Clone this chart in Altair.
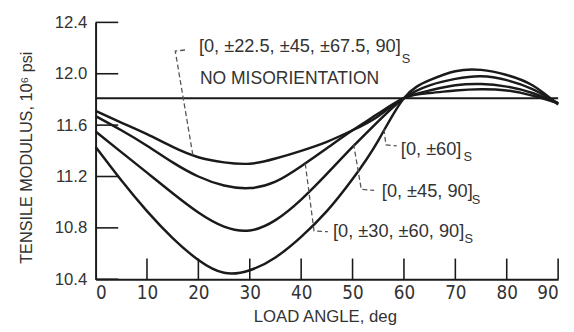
import altair as alt
import pandas as pd

# ---- data ----
angles = [0, 5, 10, 15, 20, 25, 30, 35, 40, 45, 50, 55, 60, 65, 70, 75, 80, 85, 90]
s_pi8 = [11.71, 11.62, 11.53, 11.43, 11.35, 11.31, 11.30, 11.34, 11.40, 11.47, 11.56, 11.67, 11.81, 11.85, 11.87, 11.88, 11.87, 11.83, 11.77]
s_30_60_90 = [11.67, 11.56, 11.44, 11.31, 11.20, 11.13, 11.11, 11.16, 11.28, 11.42, 11.56, 11.69, 11.81, 11.87, 11.91, 11.92, 11.90, 11.85, 11.77]
s_45_90 = [11.55, 11.39, 11.23, 11.07, 10.92, 10.81, 10.78, 10.86, 11.02, 11.22, 11.43, 11.63, 11.81, 11.91, 11.96, 11.98, 11.95, 11.88, 11.77]
s_60 = [11.43, 11.17, 10.93, 10.72, 10.55, 10.45, 10.47, 10.57, 10.73, 10.93, 11.18, 11.48, 11.81, 11.95, 12.02, 12.03, 11.99, 11.91, 11.76]
series_names = ["[0, ±22.5, ±45, ±67.5, 90]s", "[0, ±30, ±60, 90]s", "[0, ±45, 90]s", "[0, ±60]s"]
no_misorientation = [11.81]

x_ticks = [0, 10, 20, 30, 40, 50, 60, 70, 80, 90]
y_ticks = [10.4, 10.8, 11.2, 11.6, 12.0, 12.4]

label_texts = ["[0, ±22.5, ±45, ±67.5, 90]", "NO MISORIENTATION", "[0, ±60]", "[0, ±45, 90]", "[0, ±30, ±60, 90]"]
label_sizes = [18.5, 17.8, 18.5, 18.5, 18.5]
label_x = [20.1, 20.3, 59.4, 55.7, 46.2]
label_y = [12.215, 11.96, 11.41, 11.09, 10.777]

sub_x = [60.4, 72.4, 74.0, 72.6]
sub_y = [12.115, 11.35, 11.02, 10.71]

leader_id = [1, 1, 1, 2, 2, 2, 3, 3, 3, 4, 4, 4]
leader_ord = [0, 1, 2, 0, 1, 2, 0, 1, 2, 0, 1, 2]
leader_x = [17.4, 15.5, 18.96, 56.1, 56.5, 58.6, 50.2, 51.7, 54.2, 40.8, 42.5, 45.2]
leader_y = [12.185, 12.177, 11.36, 11.569, 11.446, 11.438, 11.454, 11.10, 11.092, 11.30, 10.777, 10.77]

# ---- tables ----
rows = []
for name, vals in zip(series_names, [s_pi8, s_30_60_90, s_45_90, s_60]):
    for a, v in zip(angles, vals):
        rows.append({"series": name, "angle": a, "E": v})
curves_df = pd.DataFrame(rows)
labels_df = pd.DataFrame({"text": label_texts, "x": label_x, "y": label_y, "size": label_sizes})
subs_df = pd.DataFrame({"text": ["S"] * len(sub_x), "x": sub_x, "y": sub_y})
leaders_df = pd.DataFrame({"id": leader_id, "o": leader_ord, "x": leader_x, "y": leader_y})
base_df = pd.DataFrame({"E": no_misorientation})
xt_df = pd.DataFrame({"a": x_ticks[1:]})
yt_df = pd.DataFrame({"E": y_ticks})

INK = "#1a1a1a"
TXT = "#333333"
NUMFONT = "Liberation Sans Narrow, DejaVu Sans Condensed, Liberation Sans"
FONT = "Liberation Sans, Arial, sans-serif"

W, H = 470, 261

xscale = alt.Scale(domain=[0, 90], nice=False, zero=False)
yscale = alt.Scale(domain=[10.4, 12.4], nice=False, zero=False)

xaxis = alt.Axis(values=x_ticks, ticks=False, tickSize=0, grid=False, domainColor=INK, domainWidth=2,
                 labelFont=NUMFONT, labelFontSize=19, labelColor=TXT, labelPadding=5,
                 title="LOAD ANGLE, deg", titleFont=FONT, titleFontSize=17, titleFontWeight="normal",
                 titleColor=TXT, titleX=W / 2 - 2, titleY=43, titleBaseline="alphabetic", titleAlign="center")
yaxis = alt.Axis(values=y_ticks, ticks=False, tickSize=0, grid=False, domainColor=INK, domainWidth=2,
                 labelFont=FONT, labelFontSize=17, labelColor=TXT, labelPadding=9, format=".1f",
                 title="TENSILE MODULUS, 10⁶ psi", titleFont=FONT, titleFontSize=16.5, titleFontWeight="normal",
                 titleColor=TXT, titleX=-65, titleY=137, titleAngle=270, titleBaseline="alphabetic",
                 titleAlign="center")

curves = alt.Chart(curves_df).mark_line(color=INK, strokeWidth=2.5, interpolate="natural").encode(
    x=alt.X("angle:Q", scale=xscale, axis=xaxis),
    y=alt.Y("E:Q", scale=yscale, axis=yaxis),
    detail="series:N",
)

baseline = alt.Chart(base_df).mark_rule(color=INK, strokeWidth=2).encode(y=alt.Y("E:Q", scale=yscale))

xticks = alt.Chart(xt_df).mark_rule(color=INK, strokeWidth=1.6).encode(
    x=alt.X("a:Q", scale=xscale), y=alt.value(H), y2=alt.value(H - 21))
yticks = alt.Chart(yt_df).mark_rule(color=INK, strokeWidth=1.6).encode(
    y=alt.Y("E:Q", scale=yscale), x=alt.value(0), x2=alt.value(23))

leaders = alt.Chart(leaders_df).mark_line(color="#555555", strokeWidth=1.3, strokeDash=[5, 3]).encode(
    x=alt.X("x:Q", scale=xscale), y=alt.Y("y:Q", scale=yscale), detail="id:N", order="o:Q")

labels = alt.Chart(labels_df).mark_text(align="left", baseline="middle", font=FONT, color=TXT).encode(
    x=alt.X("x:Q", scale=xscale), y=alt.Y("y:Q", scale=yscale), text="text:N",
    size=alt.Size("size:Q", scale=None, legend=None))

subs = alt.Chart(subs_df).mark_text(align="center", baseline="middle", font=FONT, fontSize=13, color=TXT).encode(
    x=alt.X("x:Q", scale=xscale), y=alt.Y("y:Q", scale=yscale), text="text:N")

chart = alt.layer(baseline, curves, xticks, yticks, leaders, labels, subs).properties(
    width=W, height=H,
    autosize=alt.AutoSizeParams(type="none"),
    padding={"left": 89, "top": 12, "right": 8, "bottom": 51},
    background="white",
).configure_view(stroke=None)

chart.save("out.html", embed_options={"renderer": "svg", "actions": False})
